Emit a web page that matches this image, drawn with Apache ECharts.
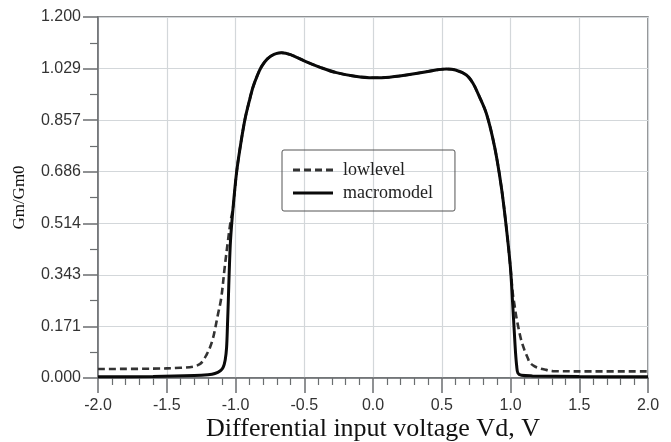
<!DOCTYPE html>
<html>
<head>
<meta charset="utf-8">
<script src="https://cdn.jsdelivr.net/npm/echarts@6/dist/echarts.min.js"></script>
<style>html,body{margin:0;padding:0;background:#fff}#c{width:671px;height:442px}</style>
</head>
<body>
<div id="c"></div>
<script>
var macroX = [-2.0,-1.6,-1.3,-1.2,-1.15,-1.11,-1.09,-1.075,-1.065,-1.058,-1.052,-1.046,-1.036,-1.017,-0.993,-0.969,-0.932,-0.900,-0.872,-0.840,-0.811,-0.77,-0.72,-0.666,-0.60,-0.484,-0.38,-0.266,-0.13,0.0,0.12,0.243,0.40,0.533,0.60,0.679,0.727,0.763,0.824,0.884,0.933,0.969,0.999,1.017,1.028,1.037,1.045,1.054,1.08,1.16,1.5,2.0];
var macroY = [0.004,0.005,0.008,0.011,0.015,0.024,0.035,0.06,0.10,0.18,0.26,0.348,0.459,0.569,0.680,0.758,0.858,0.920,0.968,1.007,1.035,1.060,1.076,1.081,1.075,1.051,1.032,1.015,1.003,0.998,1.000,1.007,1.019,1.027,1.024,1.007,0.980,0.946,0.880,0.769,0.636,0.503,0.370,0.237,0.15,0.082,0.04,0.016,0.009,0.007,0.005,0.004];
var lowX = [-2.0,-1.6,-1.4,-1.306,-1.26,-1.235,-1.21,-1.187,-1.165,-1.150,-1.126,-1.104,-1.078,-1.054,-1.036,-1.017,-0.993,-0.969,-0.932,-0.900,-0.872,-0.840,-0.811,-0.77,-0.72,-0.666,-0.60,-0.484,-0.38,-0.266,-0.13,0.0,0.12,0.243,0.40,0.533,0.60,0.679,0.727,0.763,0.824,0.884,0.933,0.969,0.999,1.017,1.03,1.042,1.066,1.078,1.10,1.127,1.139,1.17,1.211,1.26,1.308,1.6,2.0];
var lowY = [0.030,0.031,0.034,0.038,0.046,0.058,0.078,0.100,0.13,0.160,0.215,0.265,0.370,0.459,0.52,0.569,0.680,0.758,0.858,0.920,0.968,1.007,1.035,1.060,1.076,1.081,1.075,1.051,1.032,1.015,1.003,0.998,1.000,1.007,1.019,1.027,1.024,1.007,0.980,0.946,0.880,0.769,0.636,0.503,0.370,0.28,0.24,0.204,0.149,0.126,0.095,0.065,0.052,0.040,0.032,0.027,0.023,0.022,0.022];
var xTicks = [-2.0,-1.5,-1.0,-0.5,0.0,0.5,1.0,1.5,2.0];
var yTicks = ['0.000','0.171','0.343','0.514','0.686','0.857','1.029','1.200'];

function pairs(xs, ys){ return xs.map(function(x,i){ return [x, ys[i]]; }); }

var chart = echarts.init(document.getElementById('c'), null, {renderer:'canvas'});
var axisColor = '#6b6e70';
var gridColor = '#d3d7da';
var dashIcon = 'path://M0,0h7v3h-7z M11,0h7v3h-7z M22,0h7v3h-7z M33,0h7v3h-7z';
var solidIcon = 'path://M0,0h40v3h-40z';
chart.setOption({
  animation: false,
  backgroundColor: '#fff',
  grid: {left: 98, right: 23, top: 17, bottom: 64, show: true, borderColor: axisColor, borderWidth: 1.5,
         containLabel: false, outerBoundsMode: 'none'},
  legend: {
    orient: 'vertical', left: 282, top: 150,
    padding: [11, 22, 9, 11], itemGap: 5, itemWidth: 40, itemHeight: 3,
    borderColor: '#555', borderWidth: 1, borderRadius: 2,
    textStyle: {fontFamily: 'Liberation Serif', fontSize: 18, color: '#222', padding: [0, 0, 0, 5]},
    data: [{name: 'lowlevel', icon: dashIcon}, {name: 'macromodel', icon: solidIcon}]
  },
  xAxis: {
    type: 'value', min: -2, max: 2, interval: 0.5,
    name: 'Differential input voltage Vd, V', nameLocation: 'middle', nameGap: 38, nameMoveOverlap: false,
    nameTextStyle: {fontFamily: 'Liberation Serif', fontSize: 26, color: '#111'},
    axisLine: {onZero: false, lineStyle: {color: axisColor, width: 1.5}},
    axisTick: {show: true, length: 15, lineStyle: {color: axisColor, width: 1.5}},
    minorTick: {show: true, splitNumber: 5, length: 7, lineStyle: {color: axisColor, width: 1.2}},
    axisLabel: {fontFamily: 'Liberation Sans', fontSize: 16, color: '#333', margin: 20,
      formatter: function(v){ return v.toFixed(1); }},
    splitLine: {show: true, lineStyle: {color: gridColor, width: 1.2}}
  },
  yAxis: {
    type: 'value', min: 0, max: 1.2, interval: 1.2/7,
    name: 'Gm/Gm0', nameLocation: 'middle', nameGap: 70, nameMoveOverlap: false,
    nameTextStyle: {fontFamily: 'Liberation Serif', fontSize: 17, color: '#111'},
    axisLine: {onZero: false, lineStyle: {color: axisColor, width: 1.5}},
    axisTick: {show: true, length: 15, lineStyle: {color: axisColor, width: 1.5}},
    minorTick: {show: true, splitNumber: 2, length: 8, lineStyle: {color: axisColor, width: 1.2}},
    axisLabel: {fontFamily: 'Liberation Sans', fontSize: 16, color: '#333', margin: 17,
      formatter: function(v){ var i = Math.round(v/(1.2/7)); return yTicks[i]; }},
    splitLine: {show: true, lineStyle: {color: gridColor, width: 1.2}}
  },
  series: [
    {name: 'lowlevel', type: 'line', data: pairs(lowX, lowY), symbol: 'none', smooth: 0.35,
     lineStyle: {color: '#333', width: 2.6, type: [7, 4]}, itemStyle: {color: '#333'}, z: 2},
    {name: 'macromodel', type: 'line', data: pairs(macroX, macroY), symbol: 'none', smooth: 0.35,
     lineStyle: {color: '#0a0a0a', width: 3}, itemStyle: {color: '#0a0a0a'}, z: 3}
  ]
});
</script>
</body>
</html>
